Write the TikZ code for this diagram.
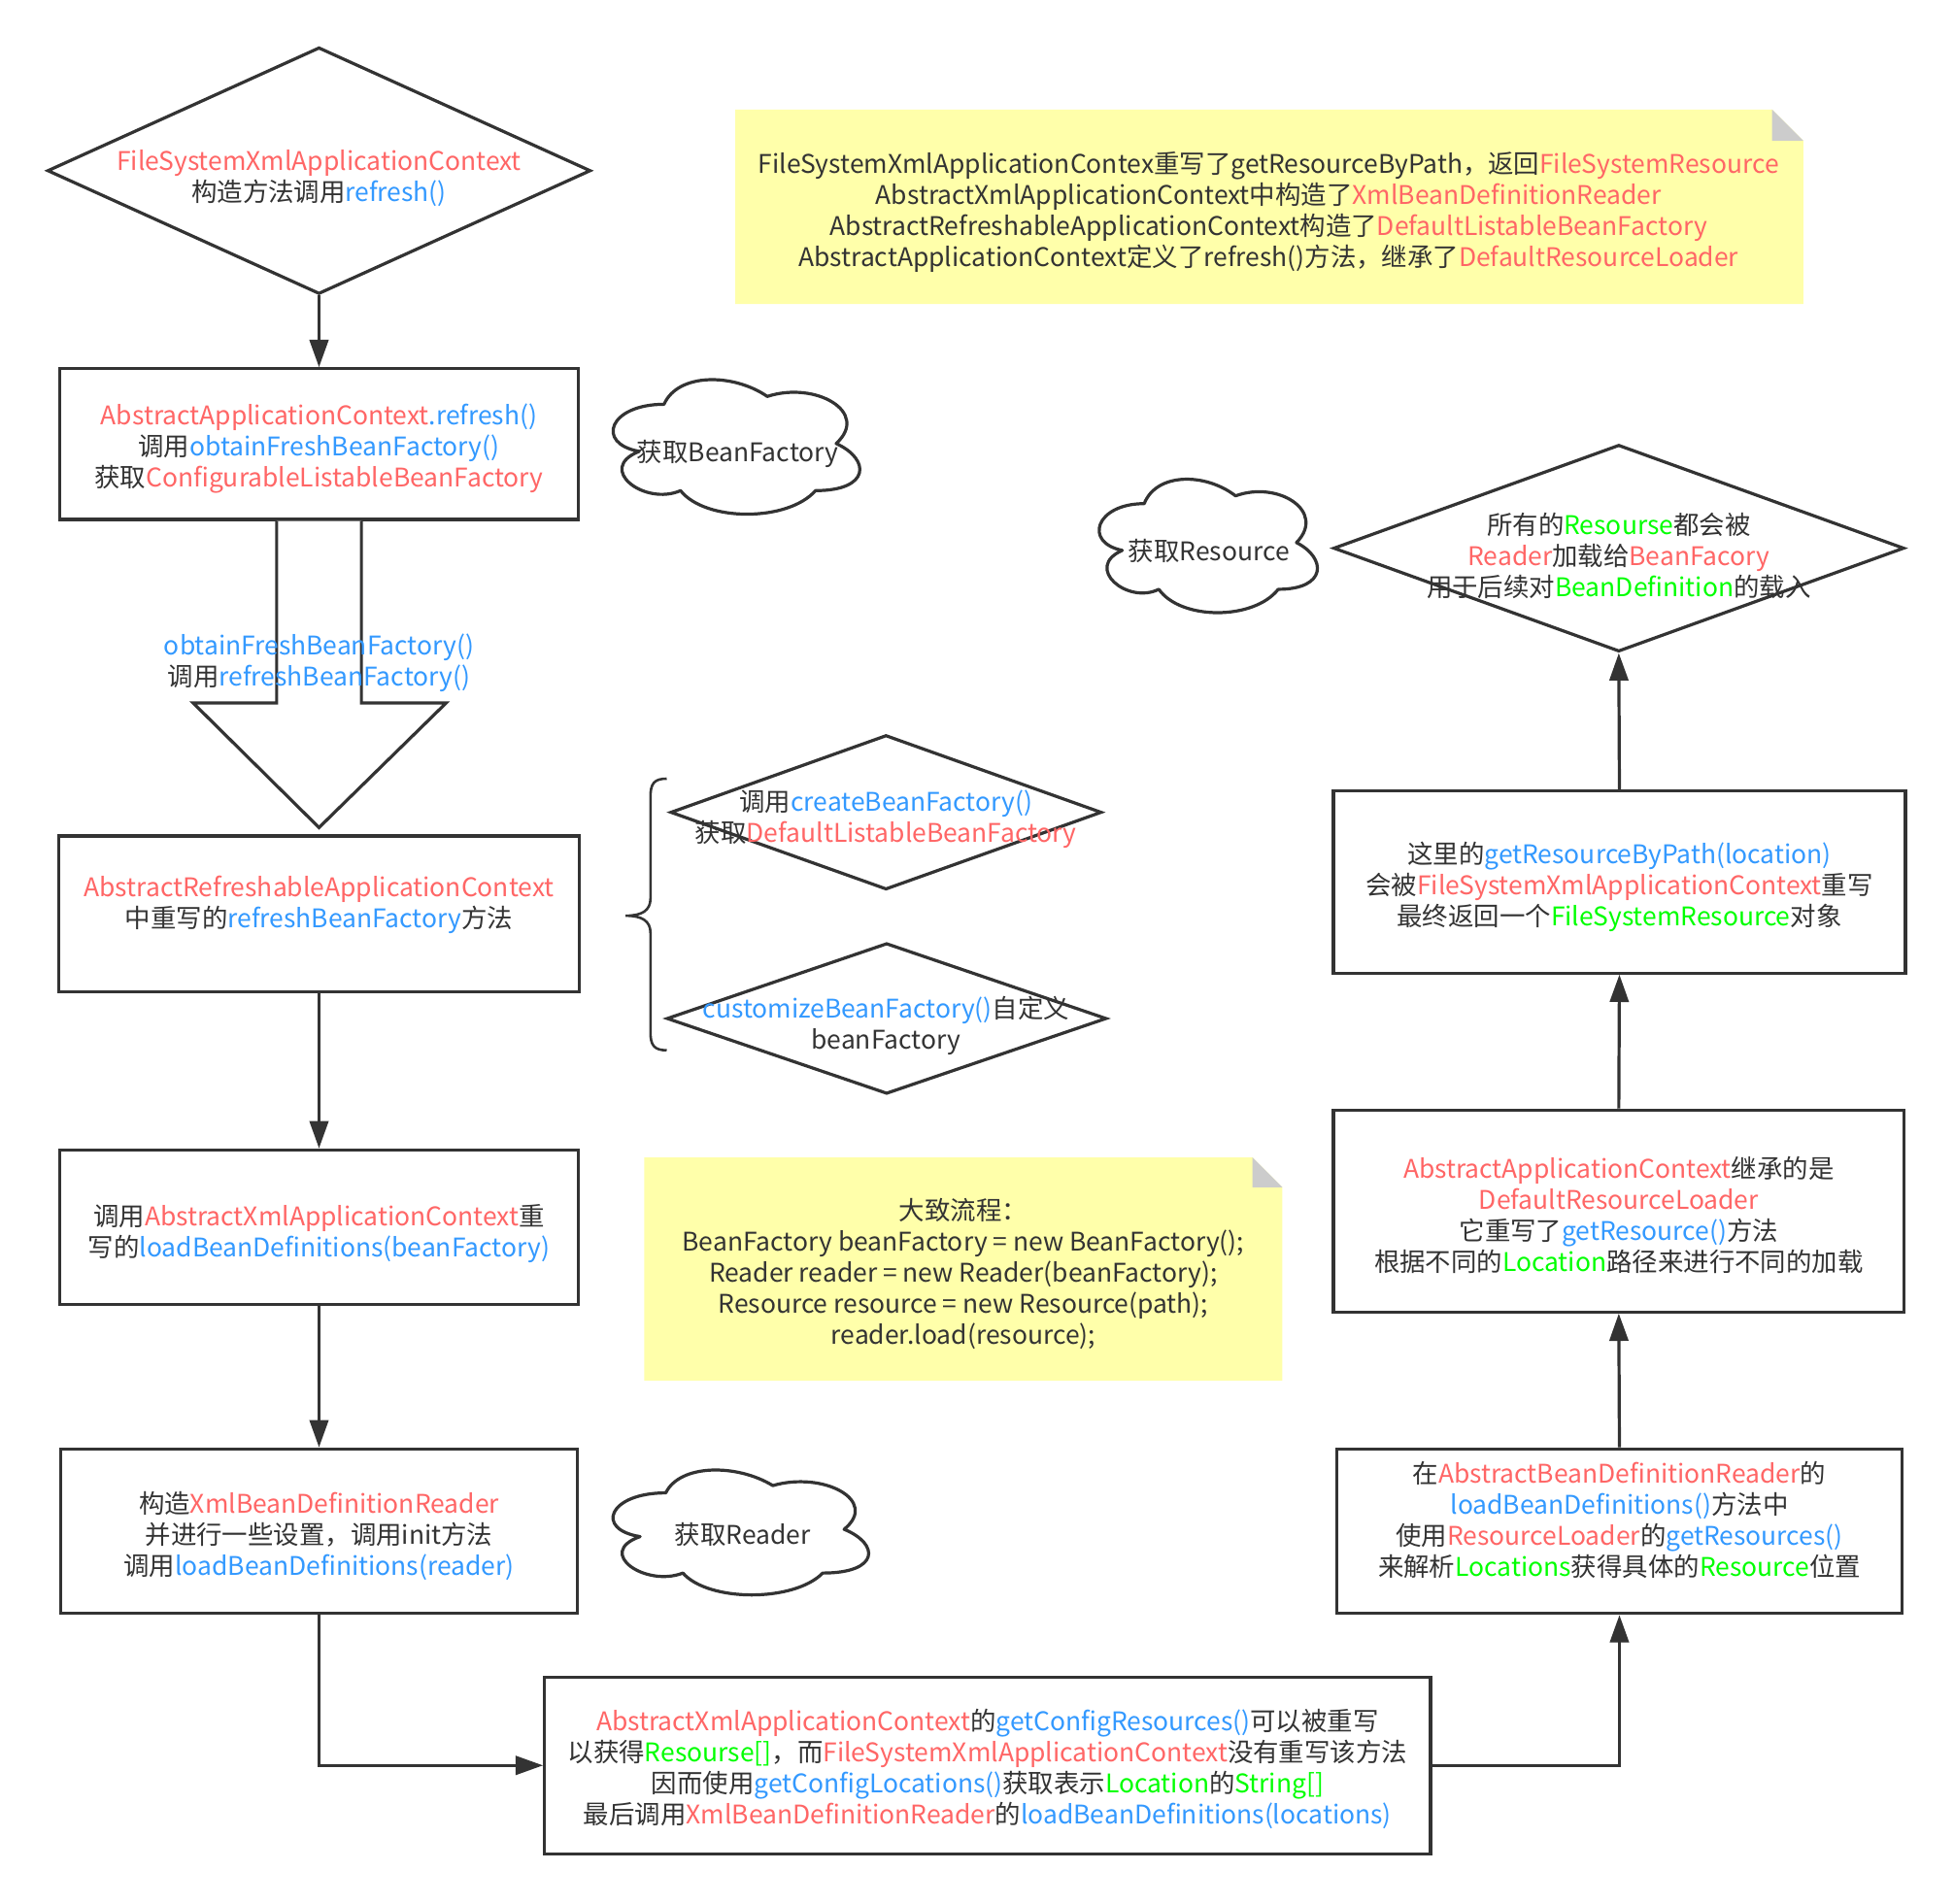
\documentclass[tikz,border=0pt]{standalone}
\usepackage{fontspec}
\setmainfont{Noto Sans CJK SC}
\usetikzlibrary{shapes.geometric,arrows.meta,calc}
\definecolor{cred}{HTML}{FF6666}
\definecolor{cblue}{HTML}{3399FF}
\definecolor{cgreen}{HTML}{00FF00}
\definecolor{cline}{HTML}{333333}
\definecolor{cnote}{HTML}{FFFFAA}
\definecolor{cfold}{HTML}{CCCCCC}
\newcommand\rd[1]{\textcolor{cred}{#1}}
\newcommand\bl[1]{\textcolor{cblue}{#1}}
\newcommand\gr[1]{\textcolor{cgreen}{#1}}
% draw.io cloud outline: x y w h (y downward)
\newcommand\cloudpath[4]{%
  \draw[cloudst] ({#1+0.25*#3},{#2+0.25*#4})
   .. controls ({#1+0.05*#3},{#2+0.25*#4}) and ({#1},{#2+0.5*#4}) .. ({#1+0.16*#3},{#2+0.55*#4})
   .. controls ({#1},{#2+0.66*#4}) and ({#1+0.18*#3},{#2+0.9*#4}) .. ({#1+0.31*#3},{#2+0.8*#4})
   .. controls ({#1+0.4*#3},{#2+#4}) and ({#1+0.7*#3},{#2+#4}) .. ({#1+0.8*#3},{#2+0.8*#4})
   .. controls ({#1+#3},{#2+0.8*#4}) and ({#1+#3},{#2+0.6*#4}) .. ({#1+0.875*#3},{#2+0.5*#4})
   .. controls ({#1+#3},{#2+0.3*#4}) and ({#1+0.8*#3},{#2+0.1*#4}) .. ({#1+0.625*#3},{#2+0.2*#4})
   .. controls ({#1+0.5*#3},{#2+0.05*#4}) and ({#1+0.3*#3},{#2+0.05*#4}) .. cycle;}
% note: x1 y1 x2 y2 fold
\newcommand\notepath[5]{%
  \fill[cnote] (#1,#2) -- ({#3-#5},#2) -- (#3,{#2+#5}) -- (#3,#4) -- (#1,#4) -- cycle;
  \fill[cfold] ({#3-#5},#2) -- ({#3-#5},{#2+#5}) -- (#3,{#2+#5}) -- cycle;}
\begin{document}
\begin{tikzpicture}[x=1pt,y=-1pt,
  every node/.style={font=\fontsize{20.6}{25}\selectfont, text=cline, align=center, inner sep=0pt},
  boxst/.style={draw=cline, line width=2.5pt, fill=white, rectangle},
  diast/.style={draw=cline, line width=2.5pt, fill=white, diamond, inner sep=0pt},
  cloudst/.style={draw=cline, line width=2.5pt, fill=white, line join=round},
  conn/.style={draw=cline, line width=2.5pt, -{Triangle[length=22pt,width=15pt]}},
  txt/.style={}]
\useasboundingbox (0,0) rectangle (1568,1527.5);
\fill[white] (0,0) rectangle (1568,1527.5);

% diamonds
\node[diast, minimum width=436pt, minimum height=198pt] (d1) at (256,137) {};
\node[txt] (d1t) at (256,143) {\rd{FileSystemXmlApplicationContext}\\构造方法调用\bl{refresh()}};

\node[diast, minimum width=346pt, minimum height=124pt] (d2) at (711,652) {};
\node[txt] (d2t) at (711,657.5) {调用\bl{createBeanFactory()}\\获取\rd{DefaultListableBeanFactory}};

\node[diast, minimum width=353pt, minimum height=121pt] (d3) at (711.5,817.5) {};
\node[txt] (d3t) at (711,823) {\bl{customizeBeanFactory()}自定义\\beanFactory};

\node[diast, minimum width=458pt, minimum height=166pt] (d4) at (1299,440) {};
\node[txt] (d4t) at (1299,446) {所有的\gr{Resourse}都会被\\\rd{Reader}加载给\rd{BeanFacory}\\用于后续对\gr{BeanDefinition}的载入};

% notes
\notepath{590}{88}{1447}{244}{25}
\node[txt] (n1) at (1018,170) {FileSystemXmlApplicationContex重写了getResourceByPath，返回\rd{FileSystemResource}\\
AbstractXmlApplicationContext中构造了\rd{XmlBeanDefinitionReader}\\
AbstractRefreshableApplicationContext构造了\rd{DefaultListableBeanFactory}\\
AbstractApplicationContext定义了refresh()方法，继承了\rd{DefaultResourceLoader}};

\notepath{517}{929}{1029}{1108}{24}
\node[txt] (n2) at (773,1022.5) {大致流程：\\BeanFactory beanFactory = new BeanFactory();\\Reader reader = new Reader(beanFactory);\\Resource resource = new Resource(path);\\reader.load(resource);};

% boxes
\node[boxst, minimum width=416pt, minimum height=121pt,
  label={[yshift=-3.5pt]center:{\rd{AbstractApplicationContext}\bl{.refresh()}\\调用\bl{obtainFreshBeanFactory()}\\获取\rd{ConfigurableListableBeanFactory}}}] (A) at (256,356.5) {};
\node[boxst, minimum width=418pt, minimum height=125pt,
  label={[yshift=-2.5pt]center:{\rd{AbstractRefreshableApplicationContext}\\中重写的\bl{refreshBeanFactory}方法\\\mbox{}}}] (B) at (256,733.5) {};
\node[boxst, minimum width=416pt, minimum height=124pt,
  label={[yshift=-5pt]center:{调用\rd{AbstractXmlApplicationContext}重\\写的\bl{loadBeanDefinitions(beanFactory)}}}] (C) at (256,985) {};
\node[boxst, minimum width=414pt, minimum height=132pt,
  label={[yshift=-4pt]center:{构造\rd{XmlBeanDefinitionReader}\\并进行一些设置，调用init方法\\调用\bl{loadBeanDefinitions(reader)}}}] (D) at (256,1229) {};
\node[boxst, minimum width=711pt, minimum height=142pt,
  label={[yshift=-3pt]center:{\rd{AbstractXmlApplicationContext}的\bl{getConfigResources()}可以被重写\\
   以获得\gr{Resourse[]}，而\rd{FileSystemXmlApplicationContext}没有重写该方法\\
   因而使用\bl{getConfigLocations()}获取表示\gr{Location}的\gr{String[]}\\
   最后调用\rd{XmlBeanDefinitionReader}的\bl{loadBeanDefinitions(locations)}}}] (E) at (792.5,1417) {};
\node[boxst, minimum width=453pt, minimum height=132pt,
  label={[yshift=-2.5pt]center:{在\rd{AbstractBeanDefinitionReader}的\\\bl{loadBeanDefinitions()}方法中\\使用\rd{ResourceLoader}的\bl{getResources()}\\来解析\gr{Locations}获得具体的\gr{Resource}位置\\\mbox{}}}] (F) at (1299.5,1229) {};
\node[boxst, minimum width=458pt, minimum height=162pt,
  label={[yshift=-3pt]center:{\rd{AbstractApplicationContext}继承的是\\\rd{DefaultResourceLoader}\\它重写了\bl{getResource()}方法\\根据不同的\gr{Location}路径来进行不同的加载}}] (G) at (1299,972) {};
\node[boxst, minimum width=459pt, minimum height=146pt,
  label={[yshift=-4pt]center:{这里的\bl{getResourceByPath(location)}\\会被\rd{FileSystemXmlApplicationContext}重写\\最终返回一个\gr{FileSystemResource}对象}}] (H) at (1299.5,708) {};

% block arrow A -> B
\draw[draw=cline, line width=2.5pt, fill=white, line join=miter]
  ($(A.south)+(-34,0)$) -- ($(A.south)+(-34,146)$) -- ($(A.south)+(-101,146)$)
  -- ($(A.south)+(0,246)$) -- ($(A.south)+(102,146)$) -- ($(A.south)+(34,146)$) -- ($(A.south)+(34,0)$);
\node[txt] (bat) at (256,532) {\bl{obtainFreshBeanFactory()}\\调用\bl{refreshBeanFactory()}};

% brace
\draw[draw=cline, line width=2pt] (535,625) .. controls (525,625) and (522,629) .. (522,639)
  -- (522,721) .. controls (522,731) and (515,735) .. (502,735)
  .. controls (515,735) and (522,739) .. (522,749)
  -- (522,829) .. controls (522,839) and (525,843) .. (535,843);

% clouds
\cloudpath{477.6}{293}{221}{126}
\node[txt] (c1) at (592,364) {获取BeanFactory};
\cloudpath{869.3}{373}{195.5}{125}
\node[txt] (c2) at (970,442) {获取Resource};
\cloudpath{477}{1169}{229}{117}
\node[txt] (c3) at (596,1232) {获取Reader};

% connectors
\draw[conn] (d1.south) -- (A.north);
\draw[conn] (B.south) -- (C.north);
\draw[conn] (C.south) -- (D.north);
\draw[conn] (D.south) |- (E.west);
\draw[conn] (E.east) -| (F.south);
\draw[conn] (F.north) -- (G.south);
\draw[conn] (G.north) -- (H.south);
\draw[conn] (H.north) -- (d4.south);
\end{tikzpicture}
\end{document}
